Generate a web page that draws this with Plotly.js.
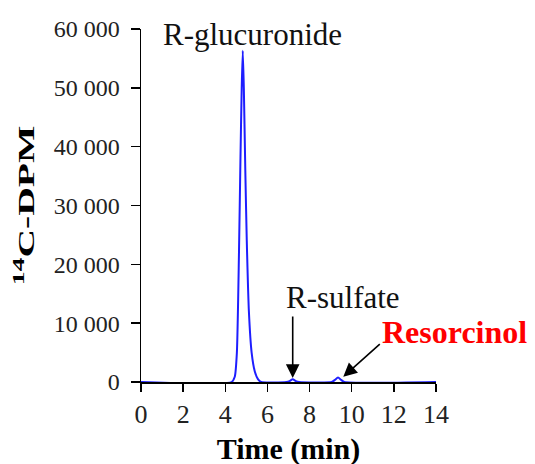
<!DOCTYPE html>
<html>
<head>
<meta charset="utf-8">
<script src="https://cdn.plot.ly/plotly-3.0.1.min.js"></script>
<style>html,body{margin:0;padding:0;background:#fff;}#chart{width:535px;height:464px;}</style>
</head>
<body>
<div id="chart"></div>
<script>
// Retention time (min) and 14C-DPM
const timeMin = [0, 4.30, 4.45, 4.55, 4.65, 4.72, 4.78, 4.83, 4.88, 4.95, 5.02, 5.12, 5.25, 5.40, 5.55, 5.70,
                 6.90, 7.05, 7.20, 7.35, 7.50, 9.05, 9.20, 9.35, 9.50, 9.65, 14];
const dpm = [0, 0, 900, 5000, 22000, 38000, 50000, 56300, 50000, 36000, 24000, 12000, 5000, 1800, 500, 0,
             0, 150, 450, 150, 0, 0, 350, 750, 350, 0, 0];

const xTicks = [0, 2, 4, 6, 8, 10, 12, 14];
const yTicks = [0, 10000, 20000, 30000, 40000, 50000, 60000];
const xRange = [0, 14];
const yRange = [0, 60000];

// Peak labels: [text, x (min), y (DPM)]
const labelGluc = ["R-glucuronide", 5.27, 59000];
const labelSulf = ["R-sulfate", 9.6, 14300];
const labelRes = ["Resorcinol", 14.9, 8500];
// Arrow tips: [x (min), y (DPM)]
const arrowSulf = [7.2, 700];
const arrowRes = [9.6, 900];

const serif = "Liberation Serif";
const toPaperX = v => (v - xRange[0]) / (xRange[1] - xRange[0]);

const trace = {
  x: timeMin, y: dpm, type: "scatter", mode: "lines",
  line: {color: "rgb(30,30,255)", width: 2, shape: "spline", smoothing: 0.6},
  hoverinfo: "skip"
};

const layout = {
  width: 535, height: 464,
  margin: {l: 141, r: 99, t: 29, b: 82},
  paper_bgcolor: "#fff", plot_bgcolor: "#fff",
  showlegend: false,
  separators: ". ",
  font: {family: serif, color: "#222"},
  xaxis: {
    range: xRange, tickvals: xTicks, showgrid: false, zeroline: false,
    showline: true, linecolor: "#000", linewidth: 1.5,
    ticks: "outside", ticklen: 8, tickwidth: 1.5, tickcolor: "#000",
    tickfont: {family: serif, size: 26, color: "#222"},
    title: {text: "<b>Time (min)</b>", font: {family: serif, size: 30, color: "#000"}, standoff: 18}
  },
  yaxis: {
    range: yRange, tickvals: yTicks, tickformat: ",d", showgrid: false, zeroline: false,
    showline: true, linecolor: "#000", linewidth: 1.5,
    ticks: "outside", ticklen: 9, tickwidth: 1.5, tickcolor: "#000",
    ticklabelstandoff: 6,
    tickfont: {family: serif, size: 24, color: "#222"},
    title: {text: "<b><sup>14</sup>C-DPM</b>", font: {family: serif, size: 24, color: "#000"}, standoff: 12}
  },
  annotations: [
    {x: labelGluc[1], y: labelGluc[2], xref: "x", yref: "y", text: labelGluc[0], showarrow: false,
     font: {family: serif, size: 31, color: "#111"}, xanchor: "center", yanchor: "middle"},
    {x: labelSulf[1], y: labelSulf[2], xref: "x", yref: "y", text: labelSulf[0], showarrow: false,
     font: {family: serif, size: 31, color: "#111"}, xanchor: "center", yanchor: "middle"},
    {x: toPaperX(labelRes[1]), y: labelRes[2], xref: "paper", yref: "y", text: "<b>" + labelRes[0] + "</b>", showarrow: false,
     font: {family: serif, size: 32, color: "#ff0000"}, xanchor: "center", yanchor: "middle"},
    {x: arrowSulf[0], y: arrowSulf[1], xref: "x", yref: "y", text: "", showarrow: true,
     ax: 0, ay: -63, arrowhead: 2, arrowsize: 1.7, arrowwidth: 1.6, arrowcolor: "#000", standoff: 0},
    {x: arrowRes[0], y: arrowRes[1], xref: "x", yref: "y", text: "", showarrow: true,
     ax: 38, ay: -34, arrowhead: 2, arrowsize: 1.7, arrowwidth: 1.6, arrowcolor: "#000", standoff: 0}
  ]
};

Plotly.newPlot("chart", [trace], layout, {staticPlot: true, displayModeBar: false}).then(gd => {
  // The reference's y title is drawn elongated along its length; stretch it the same way.
  const t = gd.querySelector(".ytitle");
  if (t) {
    const x = parseFloat(t.getAttribute("x")), y = parseFloat(t.getAttribute("y"));
    const base = t.getAttribute("transform") || "";
    t.setAttribute("transform", base + " translate(" + x + "," + y + ") scale(1.65,1) translate(" + (-x) + "," + (-y) + ")");
  }
  // The x title sits close to the bottom edge in the reference.
  const xt = gd.querySelector(".xtitle");
  if (xt) {
    const base = xt.getAttribute("transform") || "";
    xt.setAttribute("transform", "translate(0,2) " + base);
  }
});
</script>
</body>
</html>
